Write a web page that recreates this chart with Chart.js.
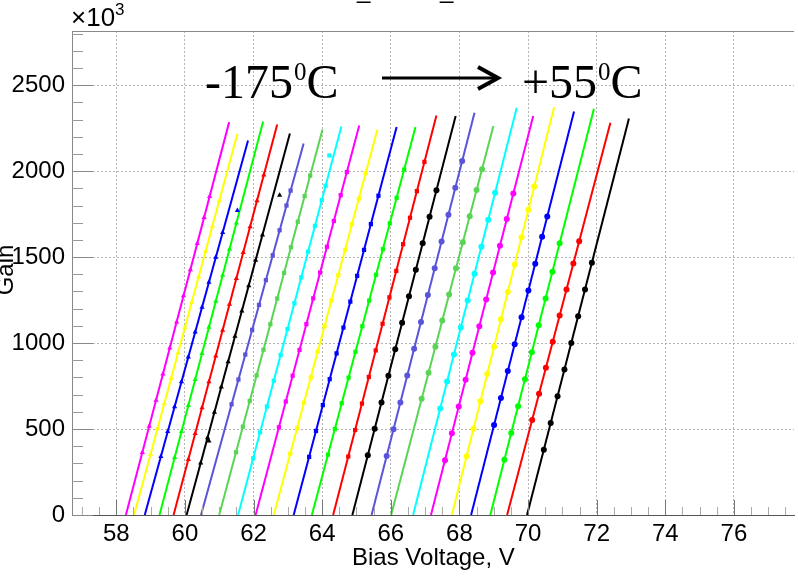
<!DOCTYPE html>
<html>
<head>
<meta charset="utf-8">
<script src="https://cdn.jsdelivr.net/npm/chart.js@4.4.1/dist/chart.umd.min.js"></script>
<style>
  html, body { margin: 0; padding: 0; background: #fff; }
  #wrap { width: 798px; height: 577px; }
</style>
</head>
<body>
<div id="wrap"><canvas id="gain-chart" width="798" height="577"></canvas></div>
<script>
// Ejes
const xTickLabels = [58, 60, 62, 64, 66, 68, 70, 72, 74, 76];
const yTickLabels = [0, 500, 1000, 1500, 2000, 2500];

// Colores de las curvas (de -175 C a +55 C)
const lineColors = [
    '#ff00ff', '#ffff00', '#0000ff', '#00ff00', '#ff0000', '#000000', '#5954d9', '#59d454', '#00ffff',
    '#ff00ff', '#ffff00', '#0000ff', '#00ff00', '#ff0000', '#000000', '#5954d9', '#59d454', '#00ffff',
    '#ff00ff', '#ffff00', '#0000ff', '#00ff00', '#ff0000', '#000000'
];
const markerStyles = [
    'triangle', 'triangle', 'triangle', 'triangle', 'triangle', 'triangle',
    'rect', 'rect', 'rect', 'rect', 'rect', 'rect', 'rect', 'rect',
    'circle', 'circle', 'circle', 'circle', 'circle', 'circle', 'circle', 'circle', 'circle', 'circle'
];

// Ajustes lineales: voltaje a ganancia 0 y punto final
const fitStartV = [58.28, 58.52, 58.83, 59.26, 59.67, 60.05, 60.47, 61.00, 61.55, 62.06, 62.59, 63.17,
    63.70, 64.32, 64.88, 65.44, 66.01, 66.65, 67.17, 67.78, 68.34, 68.90, 69.39, 69.97];
const fitEndV = [61.29, 61.53, 61.84, 62.28, 62.69, 63.06, 63.46, 64.01, 64.56, 65.08, 65.61, 66.17,
    66.72, 67.33, 67.89, 68.44, 68.99, 69.67, 70.15, 70.76, 71.34, 71.92, 72.40, 72.94];
const fitEndGain = [2285, 2217, 2178, 2289, 2271, 2219, 2161, 2242, 2260, 2266, 2242, 2256,
    2256, 2324, 2320, 2340, 2262, 2369, 2320, 2372, 2347, 2363, 2281, 2306];

// Puntos medidos (voltaje, ganancia x10^3)
const markerV = [
    [58.76, 58.96, 59.16, 59.36, 59.56, 59.76, 59.96, 60.16, 60.36, 60.56, 60.72],
    [59.00, 59.20, 59.40, 59.60, 59.80, 60.00, 60.20, 60.40, 60.60, 60.80, 61.00],
    [59.30, 59.50, 59.70, 59.90, 60.10, 60.30, 60.50, 60.70, 60.90, 61.10, 61.53],
    [59.70, 59.90, 60.10, 60.30, 60.50, 60.70, 60.90, 61.10, 61.30, 61.50],
    [60.10, 60.30, 60.50, 60.70, 60.90, 61.10, 61.30, 61.50, 61.70, 61.90, 62.10, 62.30],
    [60.46, 60.66, 60.70, 60.86, 61.06, 61.26, 61.46, 61.66, 61.86, 62.06, 62.26, 62.76],
    [61.36, 61.56, 61.76, 61.96, 62.16, 62.36, 62.56, 62.76, 62.96, 63.08],
    [61.49, 61.69, 61.89, 62.09, 62.29, 62.49, 62.69, 62.89, 63.09, 63.29, 63.49, 63.65],
    [61.99, 62.19, 62.39, 62.59, 62.79, 62.99, 63.19, 63.39, 63.59, 63.79, 63.99, 64.10, 64.21],
    [62.74, 62.94, 63.14, 63.34, 63.54, 63.74, 63.94, 64.14, 64.34, 64.54, 64.72],
    [63.07, 63.27, 63.47, 63.67, 63.87, 64.07, 64.27, 64.47, 64.67, 64.87, 65.07, 65.27],
    [63.62, 63.82, 64.02, 64.22, 64.42, 64.62, 64.82, 65.02, 65.22, 65.42, 65.64],
    [64.17, 64.37, 64.57, 64.77, 64.97, 65.17, 65.37, 65.57, 65.77, 65.97, 66.17, 66.39],
    [64.76, 64.96, 65.16, 65.36, 65.56, 65.76, 65.96, 66.16, 66.36, 66.56, 66.76, 66.98],
    [65.33, 65.53, 65.73, 65.93, 66.13, 66.33, 66.53, 66.73, 66.93, 67.13, 67.33],
    [65.88, 66.08, 66.28, 66.48, 66.68, 66.88, 67.08, 67.28, 67.48, 67.68, 67.88, 68.08],
    [66.90, 67.10, 67.30, 67.50, 67.70, 67.90, 68.10, 68.30, 68.50, 68.66],
    [67.44, 67.64, 67.84, 68.04, 68.24, 68.44, 68.64, 68.84, 69.04],
    [67.58, 67.78, 67.98, 68.18, 68.38, 68.58, 68.78, 68.98, 69.18, 69.38, 69.57],
    [68.21, 68.41, 68.61, 68.81, 69.01, 69.21, 69.41, 69.61, 69.81, 70.01, 70.18],
    [69.01, 69.21, 69.41, 69.61, 69.81, 70.01, 70.21, 70.41, 70.56],
    [69.31, 69.51, 69.71, 69.91, 70.11, 70.31, 70.51, 70.71, 70.92],
    [70.12, 70.32, 70.52, 70.72, 70.92, 71.12, 71.32, 71.49],
    [70.46, 70.66, 70.86, 71.06, 71.26, 71.46, 71.66, 71.86]
];
const markerGain = [
    [364, 516, 668, 820, 972, 1123, 1275, 1427, 1579, 1731, 1852],
    [354, 501, 649, 796, 943, 1091, 1238, 1386, 1533, 1680, 1828],
    [340, 485, 630, 775, 919, 1064, 1209, 1354, 1499, 1643, 1771],
    [334, 485, 637, 788, 940, 1092, 1243, 1395, 1546, 1698],
    [323, 474, 624, 775, 925, 1075, 1226, 1376, 1527, 1677, 1827, 1978],
    [302, 450, 430, 597, 744, 892, 1039, 1187, 1334, 1481, 1629, 1859],
    [644, 788, 933, 1077, 1222, 1366, 1511, 1656, 1800, 1887],
    [365, 514, 663, 812, 961, 1110, 1259, 1408, 1557, 1706, 1855, 1974],
    [330, 481, 631, 781, 931, 1081, 1232, 1382, 1532, 1682, 1832, 1915, 2091],
    [510, 660, 810, 960, 1110, 1260, 1410, 1560, 1710, 1860, 1995],
    [356, 505, 653, 801, 950, 1098, 1247, 1395, 1543, 1692, 1840, 1988],
    [338, 489, 639, 790, 940, 1090, 1241, 1391, 1542, 1692, 1857],
    [351, 500, 650, 799, 949, 1098, 1247, 1397, 1546, 1696, 1845, 2009],
    [340, 494, 648, 803, 957, 1112, 1266, 1420, 1575, 1729, 1884, 2054],
    [347, 501, 655, 810, 964, 1118, 1272, 1426, 1581, 1735, 1889],
    [343, 499, 655, 811, 967, 1123, 1279, 1435, 1591, 1747, 1903, 2059],
    [676, 827, 979, 1131, 1283, 1435, 1586, 1738, 1890, 2011],
    [619, 776, 933, 1090, 1247, 1403, 1560, 1717, 1874],
    [319, 475, 631, 787, 943, 1098, 1254, 1410, 1566, 1722, 1870],
    [342, 501, 661, 820, 979, 1138, 1297, 1457, 1616, 1775, 1910],
    [524, 680, 837, 993, 1150, 1306, 1462, 1619, 1736],
    [321, 477, 633, 790, 946, 1103, 1259, 1415, 1580],
    [553, 705, 857, 1008, 1160, 1311, 1463, 1592],
    [380, 535, 691, 846, 1001, 1156, 1311, 1467]
];

const X_MIN = 56.71, X_MAX = 77.75;
const Y_MIN = 0, Y_MAX = 2815;

// Construir datasets: ajuste + puntos
function buildDatasets() {
    const sets = [];
    lineColors.forEach((color, i) => {
        sets.push({
            data: [{ x: fitStartV[i], y: 0 }, { x: fitEndV[i], y: fitEndGain[i] }],
            showLine: true,
            borderColor: color,
            borderWidth: 2,
            pointRadius: 0,
            fill: false
        });
        sets.push({
            data: markerV[i].map((v, k) => ({ x: v, y: markerGain[i][k] })),
            showLine: false,
            backgroundColor: color,
            borderColor: color,
            borderWidth: 0,
            pointStyle: markerStyles[i],
            pointRadius: 3
        });
    });
    return sets;
}

const isMajorX = v => xTickLabels.some(t => Math.abs(t - v) < 1e-6);
const isMajorY = v => yTickLabels.some(t => Math.abs(t - v) < 1e-6);

// Marcas internas, marco superior y textos
const decorations = {
    id: 'decorations',
    afterDraw(chart) {
        const ctx = chart.ctx;
        const area = chart.chartArea;
        const xs = chart.scales.x, ys = chart.scales.y;
        ctx.save();
        ctx.setLineDash([]);

        // marco superior
        ctx.strokeStyle = '#888';
        ctx.lineWidth = 1;
        ctx.beginPath();
        ctx.moveTo(area.left, area.top + 0.5);
        ctx.lineTo(area.right, area.top + 0.5);
        ctx.stroke();

        // marcas del eje x
        xs.ticks.forEach(t => {
            const px = Math.round(xs.getPixelForValue(t.value)) + 0.5;
            const len = isMajorX(t.value) ? 15 : 8;
            ctx.strokeStyle = isMajorX(t.value) ? '#777' : '#aaa';
            ctx.beginPath();
            ctx.moveTo(px, area.bottom);
            ctx.lineTo(px, area.bottom - len);
            ctx.stroke();
        });
        // marcas del eje y
        ys.ticks.forEach(t => {
            const py = Math.round(ys.getPixelForValue(t.value)) + 0.5;
            const len = isMajorY(t.value) ? 21 : 11;
            ctx.strokeStyle = isMajorY(t.value) ? '#888' : '#999';
            ctx.beginPath();
            ctx.moveTo(area.left, py);
            ctx.lineTo(area.left + len, py);
            ctx.stroke();
        });

        ctx.fillStyle = '#000';
        ctx.textBaseline = 'alphabetic';

        // multiplicador del eje y
        ctx.font = '26px "Liberation Sans"';
        ctx.textAlign = 'left';
        ctx.fillText('\u00d710', 71, 26);
        const w10 = ctx.measureText('\u00d710').width;
        ctx.font = '17px "Liberation Sans"';
        ctx.fillText('3', 71 + w10, 15);

        // restos del titulo recortado
        ctx.font = '24px "Liberation Sans"';
        ctx.fillText('_', 357, -2);
        ctx.fillText('_', 440, -2);

        // titulo del eje y
        ctx.save();
        ctx.translate(13, 270);
        ctx.rotate(-Math.PI / 2);
        ctx.textAlign = 'center';
        ctx.fillText('Gain', 0, 0);
        ctx.restore();

        // titulo del eje x
        ctx.textAlign = 'left';
        ctx.fillText('Bias Voltage, V', 352, 565);

        // anotacion de temperatura
        const big = '48px "Liberation Serif"', small = '25px "Liberation Serif"';
        function tempLabel(x, main) {
            ctx.font = big;
            ctx.fillText(main, x, 98);
            let cx = x + ctx.measureText(main).width;
            ctx.font = small;
            ctx.fillText('0', cx + 1, 80);
            cx += ctx.measureText('0').width + 1;
            ctx.font = big;
            ctx.fillText('C', cx, 98);
        }
        tempLabel(205, '-175');
        tempLabel(522, '+55');

        // flecha
        ctx.strokeStyle = '#000';
        ctx.lineWidth = 3;
        ctx.beginPath();
        ctx.moveTo(382, 78);
        ctx.lineTo(496, 78);
        ctx.stroke();
        ctx.lineWidth = 4;
        ctx.beginPath();
        ctx.moveTo(478, 67);
        ctx.lineTo(498, 78);
        ctx.lineTo(478, 89);
        ctx.stroke();

        ctx.restore();
    }
};

document.addEventListener('DOMContentLoaded', function () {
    const ctx = document.getElementById('gain-chart').getContext('2d');
    new Chart(ctx, {
        type: 'scatter',
        data: { datasets: buildDatasets() },
        plugins: [decorations],
        options: {
            responsive: false,
            devicePixelRatio: 1,
            animation: false,
            layout: { padding: { top: 31, right: 0, left: 0, bottom: 0 } },
            plugins: { legend: { display: false }, tooltip: { enabled: false } },
            scales: {
                x: {
                    type: 'linear',
                    min: X_MIN,
                    max: X_MAX,
                    afterBuildTicks: s => {
                        const t = [];
                        for (let v = 57; v <= 77.5 + 1e-9; v += 0.5) t.push({ value: v });
                        s.ticks = t;
                    },
                    afterFit: s => { s.height = 62; },
                    ticks: {
                        autoSkip: false,
                        maxRotation: 0,
                        padding: 5,
                        color: '#000',
                        font: { family: 'Liberation Sans', size: 24 },
                        callback: v => isMajorX(v) ? String(Math.round(v)) : ''
                    },
                    grid: {
                        drawTicks: false,
                        color: c => (c.tick && isMajorX(c.tick.value)) ? '#b4b4b4' : 'rgba(0,0,0,0)',
                        lineWidth: 1
                    },
                    border: { display: true, color: '#555', width: 1, dash: [2, 2] }
                },
                y: {
                    type: 'linear',
                    min: Y_MIN,
                    max: Y_MAX,
                    afterBuildTicks: s => {
                        const t = [];
                        for (let v = 0; v <= 2800; v += 100) t.push({ value: v });
                        s.ticks = t;
                    },
                    afterFit: s => { s.width = 72; },
                    ticks: {
                        autoSkip: false,
                        padding: 7,
                        color: '#000',
                        font: { family: 'Liberation Sans', size: 24 },
                        callback: v => isMajorY(v) ? String(v) : ''
                    },
                    grid: {
                        drawTicks: false,
                        color: c => (c.tick && c.tick.value > 0 && isMajorY(c.tick.value)) ? '#b4b4b4' : 'rgba(0,0,0,0)',
                        lineWidth: 1
                    },
                    border: { display: true, color: '#888', width: 1, dash: [2, 2] }
                }
            }
        }
    });
});
</script>
</body>
</html>
